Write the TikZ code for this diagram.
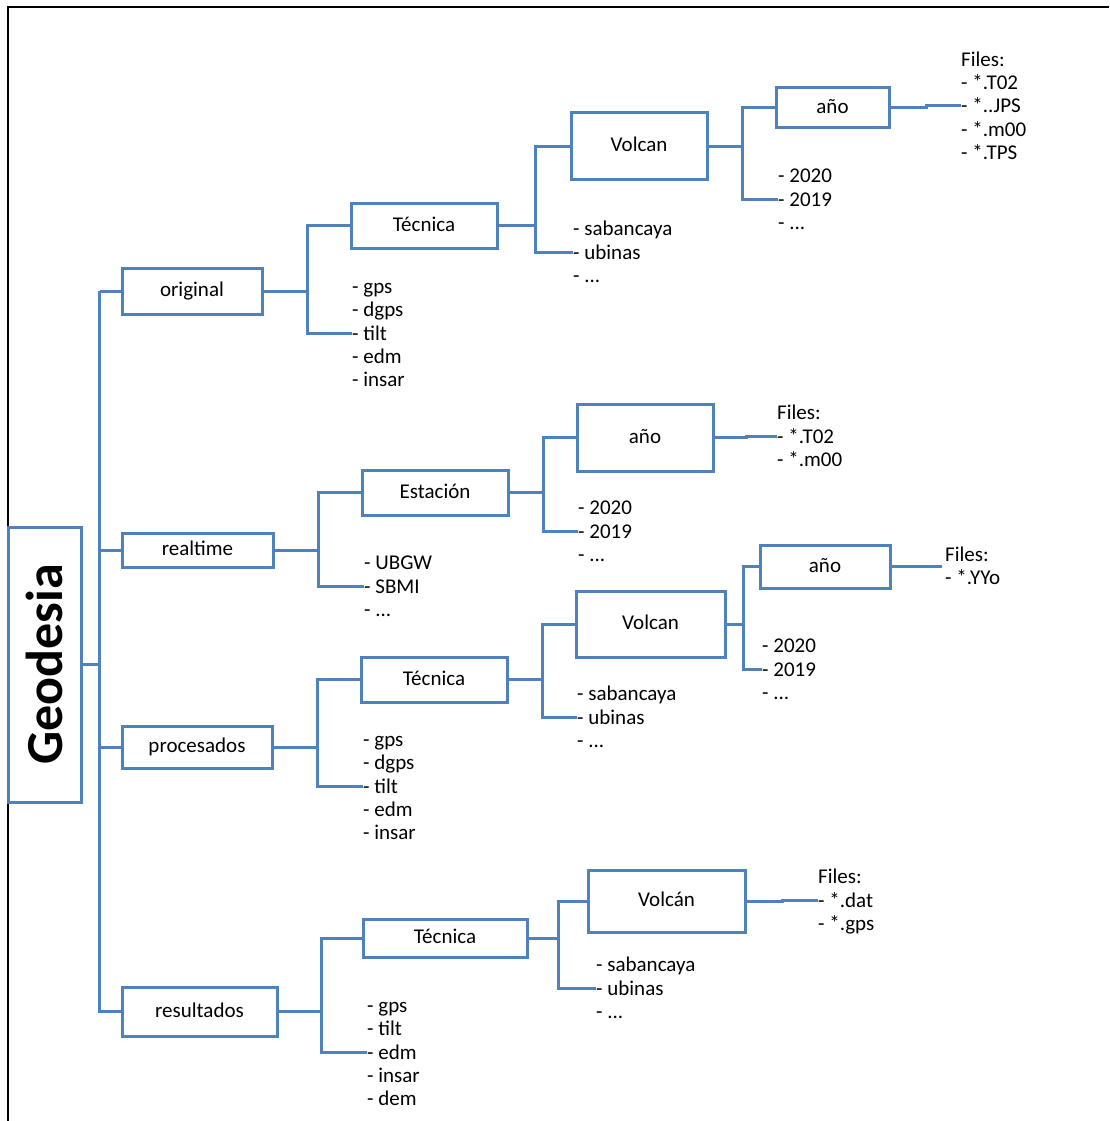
\documentclass[tikz,border=0pt]{standalone}
\usepackage{fontspec}
\setmainfont{Carlito}
\definecolor{bx}{RGB}{79,129,189}
\begin{document}
\begin{tikzpicture}[x=1pt,y=-1pt,
  box/.style={draw=bx, line width=3pt, inner sep=0pt, fill=white,
    font=\fontsize{21}{23.3}\selectfont, text height=15.5pt, text depth=4.5pt},
  geobox/.style={draw=bx, line width=3pt, inner sep=0pt,
    font=\fontsize{52}{60}\selectfont\bfseries, text height=36.4pt, text depth=0pt},
  conn/.style={draw=bx, line width=3pt},
  item/.style={anchor=west, inner sep=0pt, font=\fontsize{21}{23.3}\selectfont,
    text height=14pt, text depth=0pt},
  frame/.style={draw=black, line width=2pt}
]
\useasboundingbox (0,0) rectangle (1109,1121);
\coordinate (fr1) at (8,1121);
\coordinate (fr2) at (8,7);
\coordinate (fr3) at (1109,7);
\draw[frame] (fr1) -- (fr2) -- (fr3);

% root
\node[geobox, rotate=90, minimum width=275pt, minimum height=73pt] (geo) at (44.5,664.5) {Geodesia};

% level 1
\node[box, minimum width=140pt, minimum height=46pt] (orig) at (192,291) {original};
\node[box, minimum width=151pt, minimum height=34pt] (rt) at (197.5,550) {realtime};
\node[box, minimum width=150pt, minimum height=42pt] (proc) at (197,747) {procesados};
\node[box, minimum width=155pt, minimum height=49pt] (res) at (199.5,1011.5) {resultados};

% original branch
\node[box, minimum width=146pt, minimum height=45pt] (tec1) at (424,225.5) {Técnica};
\node[box, minimum width=136pt, minimum height=66pt] (vol1) at (639,146) {Volcan};
\node[box, minimum width=113pt, minimum height=40pt] (ano1) at (832.5,108) {año};
\node[item] (lo1) at (352,286.4) {- gps};
\node[item] (lo2) at (352,309.7) {- dgps};
\node[item] (lo3) at (352,333) {- tilt};
\node[item] (lo4) at (352,356.3) {- edm};
\node[item] (lo5) at (352,379.6) {- insar};
\node[item] (ls1a) at (573,228.7) {- sabancaya};
\node[item] (ls1b) at (573,252) {- ubinas};
\node[item] (ls1c) at (573,275.3) {- ...};
\node[item] (ly1a) at (778,175.7) {- 2020};
\node[item] (ly1b) at (778,199) {- 2019};
\node[item] (ly1c) at (778,222.3) {- ...};
\node[item] (f1a) at (961,59.4) {Files:};
\node[item] (f1b) at (961,82.7) {- *.T02};
\node[item] (f1c) at (961,106) {- *..JPS};
\node[item] (f1d) at (961,129.3) {- *.m00};
\node[item] (f1e) at (961,152.6) {- *.TPS};

% realtime branch
\node[box, minimum width=146pt, minimum height=45pt] (est) at (435,492.5) {Estación};
\node[box, minimum width=136pt, minimum height=67pt] (ano2) at (645,437.5) {año};
\node[item] (lst1) at (364,562.7) {- UBGW};
\node[item] (lst2) at (364,586) {- SBMI};
\node[item] (lst3) at (364,609.3) {- ...};
\node[item] (ly2a) at (578,507.7) {- 2020};
\node[item] (ly2b) at (578,531) {- 2019};
\node[item] (ly2c) at (578,554.3) {- ...};
\node[item] (f2a) at (777,412.7) {Files:};
\node[item] (f2b) at (777,436) {- *.T02};
\node[item] (f2c) at (777,459.3) {- *.m00};

% procesados branch
\node[box, minimum width=146pt, minimum height=45pt] (tec3) at (434,679.5) {Técnica};
\node[box, minimum width=149pt, minimum height=66pt] (vol3) at (650.5,624) {Volcan};
\node[box, minimum width=130pt, minimum height=43pt] (ano3) at (825,566.5) {año};
\node[item] (lp1) at (363,739.4) {- gps};
\node[item] (lp2) at (363,762.7) {- dgps};
\node[item] (lp3) at (363,786) {- tilt};
\node[item] (lp4) at (363,809.3) {- edm};
\node[item] (lp5) at (363,832.6) {- insar};
\node[item] (ls3a) at (577,693.7) {- sabancaya};
\node[item] (ls3b) at (577,717) {- ubinas};
\node[item] (ls3c) at (577,740.3) {- ...};
\node[item] (ly3a) at (762,645.7) {- 2020};
\node[item] (ly3b) at (762,669) {- 2019};
\node[item] (ly3c) at (762,692.3) {- ...};
\node[item] (f3a) at (945,554.5) {Files:};
\node[item] (f3b) at (945,577.8) {- *.YYo};
\coordinate (f3j) at (942,566.5);

% resultados branch
\node[box, minimum width=164pt, minimum height=38pt] (tec4) at (445,938) {Técnica};
\node[box, minimum width=157pt, minimum height=62pt] (vol4) at (666.5,901) {Volcán};
\node[item] (lr1) at (367,1005.4) {- gps};
\node[item] (lr2) at (367,1028.7) {- tilt};
\node[item] (lr3) at (367,1052) {- edm};
\node[item] (lr4) at (367,1075.3) {- insar};
\node[item] (lr5) at (367,1098.6) {- dem};
\node[item] (ls4a) at (596,964.7) {- sabancaya};
\node[item] (ls4b) at (596,988) {- ubinas};
\node[item] (ls4c) at (596,1011.3) {- ...};
\node[item] (f4a) at (818,876.7) {Files:};
\node[item] (f4b) at (818,900) {- *.dat};
\node[item] (f4c) at (818,923.3) {- *.gps};

% trunk
\draw[conn] (orig.west) -- ++(-21,0) coordinate (t1);
\draw[conn] (t1) -- (t1 |- res.west) -- (res.west);
\draw[conn] (rt.west) -- (rt.west -| t1);
\draw[conn] (proc.west) -- (proc.west -| t1);
\draw[conn] (geo.south) -- (geo.south -| t1);

% original connectors
\draw[conn] (orig.east) -- ++(44,0) coordinate (j1);
\draw[conn] (tec1.west) -| (j1) |- (lo3.west);
\draw[conn] (tec1.east) -- ++(37,0) coordinate (j2);
\draw[conn] (vol1.west) -| (j2) |- (ls1b.west);
\draw[conn] (vol1.east) -- ++(34,0) coordinate (j3);
\draw[conn] (ano1.west) -| (j3) |- (ly1b.west);
\draw[conn] (ano1.east) -- ++(36,0) |- (f1c.west);

% realtime connectors
\draw[conn] (rt.east) -- ++(44,0) coordinate (j4);
\draw[conn] (est.west) -| (j4) |- (lst2.west);
\draw[conn] (est.east) -- ++(34,0) coordinate (j5);
\draw[conn] (ano2.west) -| (j5) |- (ly2b.west);
\draw[conn] (ano2.east) -- ++(32,0) |- (f2b.west);

% procesados connectors
\draw[conn] (proc.east) -- ++(44,0) coordinate (j6);
\draw[conn] (tec3.west) -| (j6) |- (lp3.west);
\draw[conn] (tec3.east) -- ++(34,0) coordinate (j7);
\draw[conn] (vol3.west) -| (j7) |- (ls3b.west);
\draw[conn] (vol3.east) -- ++(17,0) coordinate (j8);
\draw[conn] (ano3.west) -| (j8) |- (ly3b.west);
\draw[conn] (ano3.east) -- (f3j);

% resultados connectors
\draw[conn] (res.east) -- ++(43,0) coordinate (j9);
\draw[conn] (tec4.west) -| (j9) |- (lr3.west);
\draw[conn] (tec4.east) -- ++(30,0) coordinate (j10);
\draw[conn] (vol4.west) -| (j10) |- (ls4b.west);
\draw[conn] (vol4.east) -- ++(36,0) |- (f4b.west);
\end{tikzpicture}
\end{document}
